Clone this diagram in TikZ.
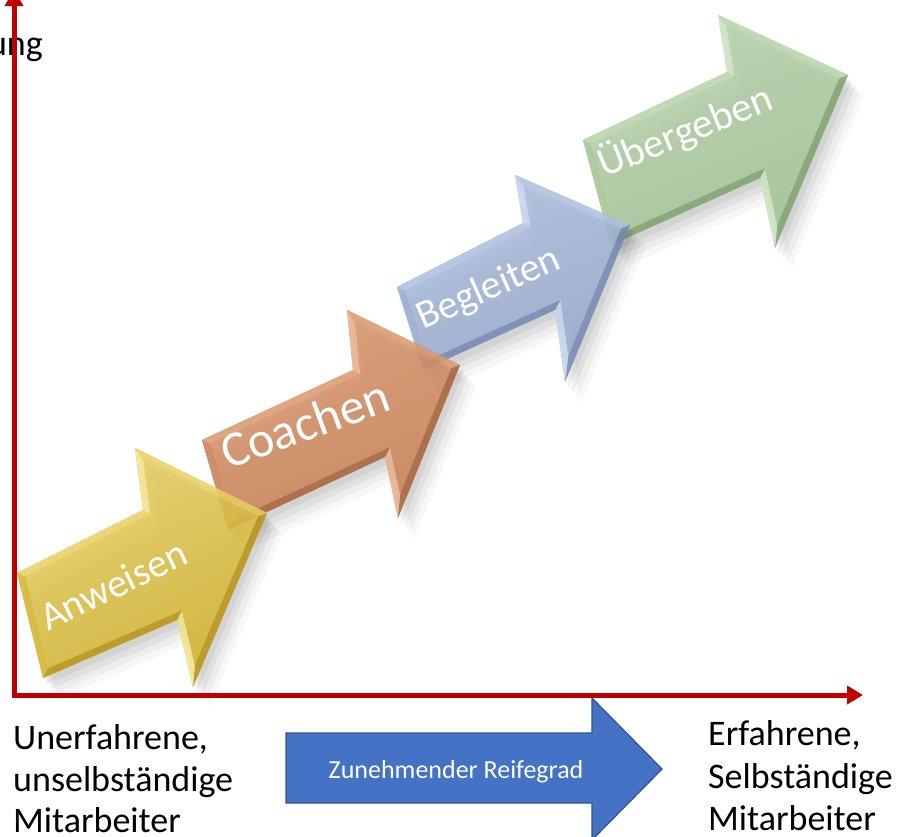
\documentclass[tikz,border=0pt]{standalone}
\usepackage{fontspec}
\setmainfont{Carlito}
\usetikzlibrary{calc,arrows.meta}

\definecolor{axisred}{RGB}{192,0,0}
\definecolor{bluefill}{RGB}{68,114,196}
\definecolor{blueedge}{RGB}{47,82,143}

\definecolor{amain}{RGB}{212,180,44}
\definecolor{alight}{RGB}{232,208,100}
\definecolor{alighter}{RGB}{242,226,140}
\definecolor{adark}{RGB}{186,148,20}

\definecolor{cmain}{RGB}{200,128,84}
\definecolor{clight}{RGB}{218,152,110}
\definecolor{clighter}{RGB}{230,174,138}
\definecolor{cdark}{RGB}{168,98,56}

\definecolor{bmain}{RGB}{150,170,206}
\definecolor{blight}{RGB}{174,191,222}
\definecolor{blighter}{RGB}{196,210,234}
\definecolor{bdark}{RGB}{116,136,178}

\definecolor{umain}{RGB}{164,196,148}
\definecolor{ulight}{RGB}{184,211,170}
\definecolor{ulighter}{RGB}{204,226,192}
\definecolor{udark}{RGB}{126,163,110}

% inner (inset) point of a polygon vertex
\newcommand\insetpt[5]{%
  \path let \p1=($(#2)-(#3)$), \p2=($(#4)-(#3)$),
    \n1={veclen(\x1,\y1)}, \n2={veclen(\x2,\y2)},
    \n3={(\x1/\n1)*(\y2/\n2)-(\y1/\n1)*(\x2/\n2)},
    \n4={#5/\n3}
  in coordinate (#1) at ($(#3)+({\n4*(\x1/\n1+\x2/\n2)},{\n4*(\y1/\n1+\y2/\n2)})$);%
}
\newcommand\mkinset[2]{%
  \insetpt{#1q1}{#17}{#11}{#12}{#2}%
  \insetpt{#1q2}{#11}{#12}{#13}{#2}%
  \insetpt{#1q3}{#12}{#13}{#14}{#2}%
  \insetpt{#1q4}{#13}{#14}{#15}{#2}%
  \insetpt{#1q5}{#14}{#15}{#16}{#2}%
  \insetpt{#1q6}{#15}{#16}{#17}{#2}%
  \insetpt{#1q7}{#16}{#17}{#11}{#2}%
}
\newcommand\bevelarrow[3]{%
  \foreach \dx/\dy/\op in {4/6/0.06,8/11/0.05,12/16/0.04,16/21/0.03}{%
    \fill[black,opacity=\op] ([shift={(\dx,\dy)}]#11) -- ([shift={(\dx,\dy)}]#12) -- ([shift={(\dx,\dy)}]#13) -- ([shift={(\dx,\dy)}]#14) -- ([shift={(\dx,\dy)}]#15) -- ([shift={(\dx,\dy)}]#16) -- ([shift={(\dx,\dy)}]#17) -- cycle;}
  \begin{scope}[transparency group, opacity=0.86]
    \fill[#2main] (#11)--(#12)--(#13)--(#14)--(#15)--(#16)--(#17)--cycle;
    \fill[#2light] (#11)--(#12)--(#1q2)--(#1q1)--cycle;
    \fill[#2lighter] (#12)--(#13)--(#1q3)--(#1q2)--cycle;
    \fill[#2light] (#13)--(#14)--(#1q4)--(#1q3)--cycle;
    \fill[#2dark] (#14)--(#15)--(#1q5)--(#1q4)--cycle;
    \fill[#2lighter] (#15)--(#16)--(#1q6)--(#1q5)--cycle;
    \fill[#2dark] (#16)--(#17)--(#1q7)--(#1q6)--cycle;
    \fill[#2main] (#17)--(#11)--(#1q1)--(#1q7)--cycle;
    \shade[top color=#2light, bottom color=#2main, shading angle=#3]
      (#1q1)--(#1q2)--(#1q3)--(#1q4)--(#1q5)--(#1q6)--(#1q7)--cycle;
  \end{scope}
}

\begin{document}
\begin{tikzpicture}[x=1pt,y=-1pt,
  axis/.style={draw=axisred, line width=5pt, line join=miter},
  lbl/.style={font=\fontsize{36}{43}\selectfont, inner sep=0pt, anchor=base west, text=black},
  arrtxt/.style={text=white, inner sep=0pt, anchor=base west},
  bluearrow/.style={fill=bluefill, draw=blueedge, line width=1.2pt, line join=miter}]

\clip (0,0) rectangle (902,836);
\fill[white] (0,0) rectangle (902,836);

% ---- arrow outlines
\coordinate (a1) at (17,573);  \coordinate (a2) at (143,510); \coordinate (a3) at (135,448);
\coordinate (a4) at (267,513); \coordinate (a5) at (193,687); \coordinate (a6) at (177,620);
\coordinate (a7) at (43,678);
\coordinate (c1) at (202,440); \coordinate (c2) at (353,370); \coordinate (c3) at (347,310);
\coordinate (c4) at (460,365); \coordinate (c5) at (398,518); \coordinate (c6) at (385,457);
\coordinate (c7) at (228,530);
\coordinate (b1) at (397,287); \coordinate (b2) at (523,223); \coordinate (b3) at (515,175);
\coordinate (b4) at (630,225); \coordinate (b5) at (565,382); \coordinate (b6) at (555,310);
\coordinate (b7) at (423,370);
\coordinate (u1) at (583,140); \coordinate (u2) at (727,72);  \coordinate (u3) at (718,15);
\coordinate (u4) at (848,75);  \coordinate (u5) at (775,248); \coordinate (u6) at (760,178);
\coordinate (u7) at (611,245);

\mkinset{a}{7}
\mkinset{c}{7}
\mkinset{b}{7}
\mkinset{u}{7}

% ---- Übergeben
\bevelarrow{u}{u}{22}
\node[arrtxt, rotate=22, font=\fontsize{41}{41}\selectfont] (tU) at (604,178) {Übergeben};
% ---- Begleiten
\bevelarrow{b}{b}{24}
\node[arrtxt, rotate=24, font=\fontsize{40}{40}\selectfont] (tB) at (423,330) {Begleiten};
% ---- Coachen
\bevelarrow{c}{c}{21}
\node[arrtxt, rotate=20, font=\fontsize{50}{50}\selectfont] (tC) at (228,470) {Coachen};
% ---- Anweisen
\bevelarrow{a}{a}{26}
\node[arrtxt, rotate=26, font=\fontsize{40}{40}\selectfont] (tA) at (48,632) {Anweisen};

% ---- blue arrow
\draw[bluearrow] (286,733) -- (592,733) -- (592,698) -- (662,769) -- (592,840) -- (592,803) -- (286,803) -- cycle;
\node[text=white, inner sep=0pt, anchor=base, font=\fontsize{26}{26}\selectfont] (reife) at (456,778) {Zunehmender Reifegrad};

% ---- labels
\node[lbl] (l1) at (13,749) {Unerfahrene,};
\node[lbl] (l2) at (13,791) {unselbständige};
\node[lbl] (l3) at (13,832) {Mitarbeiter};
\node[lbl] (r1) at (708,745) {Erfahrene,};
\node[lbl] (r2) at (708,788) {Selbständige};
\node[lbl] (r3) at (708,830) {Mitarbeiter};
\node[lbl, anchor=base east] (ylab) at (43,55) {ung};

% ---- axes
\coordinate (ytip) at (14,-10);
\coordinate (orig) at (14,695);
\coordinate (xtip) at (863,695);
\draw[axis, {Triangle[length=16pt,width=18pt]}-{Triangle[length=16pt,width=18pt]}] (ytip) -- (orig) -- (xtip);

\end{tikzpicture}
\end{document}
